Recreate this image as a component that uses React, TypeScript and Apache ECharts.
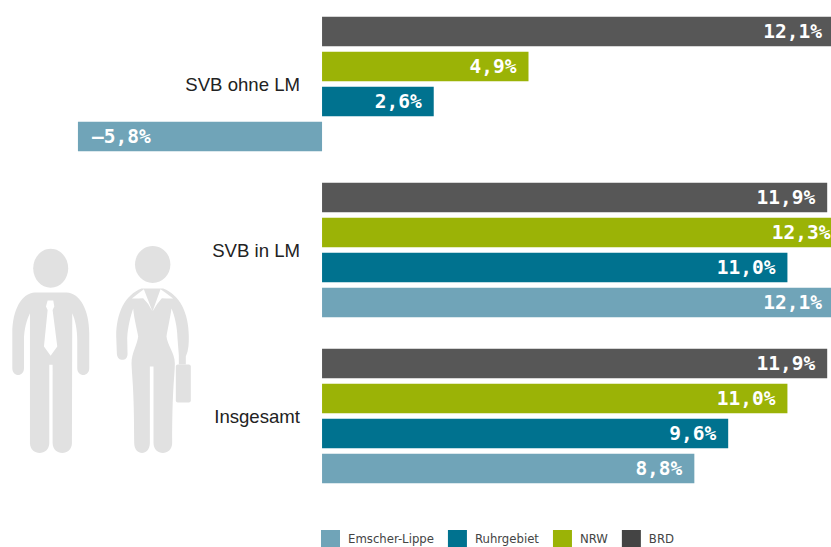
import React, { useEffect, useRef } from "react";
import * as echarts from "echarts";

const categories = ["Insgesamt", "SVB in LM", "SVB ohne LM"];
const emscherLippe = [8.8, 12.1, -5.77];
const ruhrgebiet = [9.6, 11.0, 2.64];
const nrw = [11.0, 12.3, 4.88];
const brd = [11.94, 11.94, 12.1];

const manBody =
  "M105 188 L200 188 C240 190 268 240 268 310 L268 415 C268 442 232 442 232 415 L232 330 C232 300 226 270 217 250 L216 640 C216 680 158 680 158 640 L158 405 L148 405 L148 640 C148 680 90 680 90 640 L90 250 C80 270 72 300 72 330 L72 415 C72 442 37 442 37 415 L37 310 C37 240 65 190 105 188 Z";
const womanBody =
  "M425 176 C375 195 349 250 349 320 L351 372 C353 396 383 396 383 372 L382 325 C384 290 392 260 400 236 C403 270 412 300 415 320 C412 345 395 370 395 400 C396 440 403 470 403 640 C403 680 450 680 450 640 L450 410 L461 410 L461 640 C461 680 517 680 517 640 C517 470 525 440 525 400 C525 370 502 345 500 320 C503 300 510 270 515 236 C525 260 532 290 533 325 L537 375 L537 404 L558 404 L558 380 C567 360 567 340 567 320 C567 250 540 195 490 176 Z";
const bag =
  "M534 404 L567 404 Q573 404 573 410 L573 512 Q573 518 567 518 L534 518 Q528 518 528 512 L528 410 Q528 404 534 404 Z";

function App() {
  const ref = useRef<HTMLDivElement>(null);
  useEffect(() => {
    echarts.graphic.registerShape("manBody", echarts.graphic.extendPath(manBody, {}) as any);
    echarts.graphic.registerShape("womanBody", echarts.graphic.extendPath(womanBody, {}) as any);
    echarts.graphic.registerShape("womanBag", echarts.graphic.extendPath(bag, {}) as any);
    const chart = echarts.init(ref.current!, undefined, { renderer: "svg" });
    const gray = "#e1e1e1";
    const mk = (name: string, data: number[], color: string) => ({
      name,
      type: "bar" as const,
      clip: false,
      data: data.map((v) => ({
        value: v,
        label: v < 0 ? { position: "insideLeft" as const, distance: 14 } : { position: "insideRight" as const, distance: 12 },
      })),
      barWidth: 29.5,
      barGap: "18.6%",
      itemStyle: { color },
      label: {
        show: true,
        color: "#ffffff",
        fontFamily: "'DejaVu Sans Mono'",
        fontWeight: "bold" as const,
        fontSize: 19.5,
        padding: [2, 0, 0, 0],
        formatter: (p: any) =>
          (p.value < 0 ? "–" : "") + Math.abs(p.value).toFixed(1).replace(".", ",") + "%",
      },
    });
    const t = { x: 0, y: 230, scaleX: 1 / 3, scaleY: 1 / 3 };
    chart.setOption({
      animation: false,
      backgroundColor: "#ffffff",
      grid: { left: 0, right: 0, top: 1, height: 498, containLabel: false, outerBoundsMode: "none" },
      xAxis: {
        type: "value",
        min: -7.612,
        max: 12.03,
        show: false,
      },
      yAxis: {
        type: "category",
        data: categories,
        axisLine: { show: false },
        axisTick: { show: false },
        axisLabel: {
          margin: -300,
          align: "right",
          color: "#222222",
          fontFamily: "'Liberation Sans'",
          fontSize: 18.6,
          padding: [0, 0, 2, 0],
        },
      },
      legend: {
        left: 321,
        top: 530,
        itemWidth: 19,
        itemHeight: 17,
        itemGap: 14,
        padding: 0,
        icon: "rect",
        textStyle: {
          color: "#444444",
          fontFamily: "'DejaVu Sans Condensed'",
          fontSize: 13,
          padding: [0, 0, 0, 3],
        },
        data: [
          { name: "Emscher-Lippe" },
          { name: "Ruhrgebiet" },
          { name: "NRW" },
          { name: "BRD", itemStyle: { color: "#444444" } },
        ],
      },
      graphic: [
        { type: "ellipse", shape: { cx: 50.7, cy: 268.3, rx: 17.5, ry: 19.5 }, style: { fill: gray } },
        { type: "manBody", ...t, style: { fill: gray } },
        {
          type: "polygon",
          ...t,
          shape: { points: [[143, 212], [160, 212], [163, 230], [158, 240], [172, 350], [152, 378], [132, 350], [143, 240], [138, 230]] },
          style: { fill: "#ffffff" },
        },
        { type: "ellipse", shape: { cx: 152.7, cy: 264.5, rx: 17.7, ry: 18.5 }, style: { fill: gray } },
        { type: "womanBody", ...t, style: { fill: gray } },
        { type: "womanBag", ...t, style: { fill: gray } },
        {
          type: "polygon",
          ...t,
          shape: { points: [[396, 206], [420, 187], [432, 178], [458, 245], [445, 222], [430, 205], [415, 206]] },
          style: { fill: "#ffffff" },
        },
        {
          type: "polygon",
          ...t,
          shape: { points: [[520, 206], [495, 187], [482, 178], [458, 245], [472, 222], [486, 205], [500, 206]] },
          style: { fill: "#ffffff" },
        },
      ],
      series: [
        mk("BRD", brd, "#575757"),
        mk("NRW", nrw, "#9bb306"),
        mk("Ruhrgebiet", ruhrgebiet, "#00728f"),
        mk("Emscher-Lippe", emscherLippe, "#70a4b8"),
      ],
    });
    return () => chart.dispose();
  }, []);
  return <div ref={ref} style={{ position: "fixed", left: 0, top: 0, width: 831, height: 547 }} />;
}

export default App;
